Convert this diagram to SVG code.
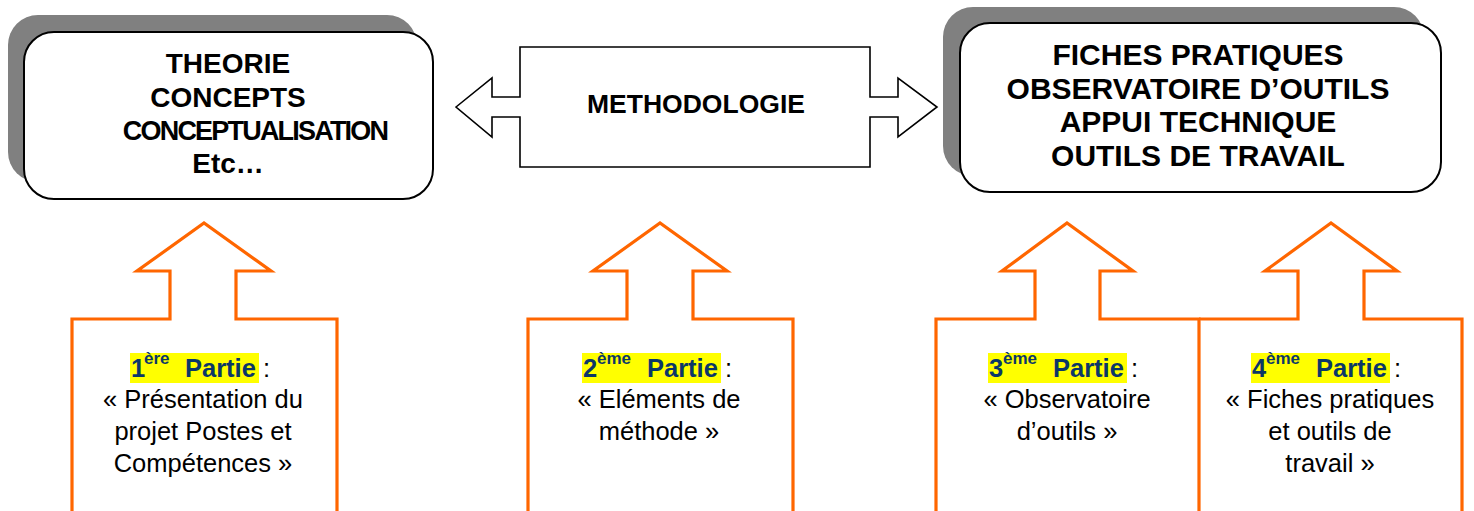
<svg xmlns="http://www.w3.org/2000/svg" width="1474" height="511" viewBox="0 0 1474 511">
<style>
.shadow{fill:#808080;stroke:none}
.card{fill:#fff;stroke:#000;stroke-width:2}
.callout{fill:#fff;stroke:#000;stroke-width:1.6;stroke-linejoin:miter}
.up{fill:#fff;stroke:#FF6600;stroke-width:3.2;stroke-linejoin:miter}
.big{font-family:"Liberation Sans",Arial,sans-serif;font-weight:bold;fill:#000;text-anchor:middle}
.body{font-family:"Liberation Sans",Arial,sans-serif;font-size:25.5px;fill:#000;text-anchor:middle}
.head{font-family:"Liberation Sans",Arial,sans-serif;font-size:25.5px;fill:#000}
.nb{font-weight:bold;fill:#0B3768}
.hl{fill:#FFFF00}
</style>
<rect width="1474" height="511" fill="#fff"/>
<g id="connectors"></g>

<g id="theorie">
<rect class="shadow" x="8" y="15" width="409" height="167" rx="30"/>
<rect class="card" x="24" y="32" width="409" height="167" rx="30"/>
<text class="big" font-size="28"><tspan x="228" y="73">THEORIE</tspan><tspan x="228" y="107">CONCEPTS</tspan></text>
<text class="big" font-size="27" x="255" y="140" letter-spacing="-1.8">CONCEPTUALISATION</text>
<text class="big" font-size="28" x="228" y="173">Etc…</text>
</g>

<g id="methodologie">
<path class="callout" d="M456,107 L492,78 L492,97 L520,97 L520,47 L870,47 L870,97 L898,97 L898,78 L937,107 L898,137 L898,117 L870,117 L870,167 L520,167 L520,117 L492,117 L492,137 Z"/>
<text class="big" font-size="26.5" x="696" y="113">METHODOLOGIE</text>
</g>

<g id="pratique">
<rect class="shadow" x="943" y="7" width="481" height="169" rx="30"/>
<rect class="card" x="960" y="23" width="481" height="169" rx="30"/>
<text class="big" font-size="30"><tspan x="1198" y="65">FICHES PRATIQUES</tspan><tspan x="1198" y="99">OBSERVATOIRE D’OUTILS</tspan><tspan x="1198" y="132">APPUI TECHNIQUE</tspan><tspan x="1198" y="166">OUTILS DE TRAVAIL</tspan></text>
</g>

<g id="partie1">
<path class="up" d="M72,515 L72,319 L170,319 L170,271 L137,271 L204,223 L271,271 L236,271 L236,319 L337,319 L337,515"/>
<rect class="hl" x="130" y="353" width="129" height="30"/>
<text class="head"><tspan class="nb" x="131" y="377">1</tspan><tspan class="nb" x="144" y="364" font-size="17">ère</tspan><tspan class="nb" x="185" y="377">Partie</tspan><tspan> :</tspan></text>
<text class="body"><tspan x="203" y="408">« Présentation du</tspan><tspan x="203" y="440">projet Postes et</tspan><tspan x="203" y="472">Compétences  »</tspan></text>
</g>

<g id="partie2">
<path class="up" d="M528,515 L528,319 L627,319 L627,271 L593,271 L660,223 L727,271 L693,271 L693,319 L793,319 L793,515"/>
<rect class="hl" x="582" y="353" width="139" height="30"/>
<text class="head"><tspan class="nb" x="583" y="377">2</tspan><tspan class="nb" x="597" y="364" font-size="17">ème</tspan><tspan class="nb" x="647" y="377">Partie</tspan><tspan> :</tspan></text>
<text class="body"><tspan x="659" y="408">« Eléments de</tspan><tspan x="659" y="440">méthode »</tspan></text>
</g>

<g id="partie3">
<path class="up" d="M936,515 L936,319 L1035,319 L1035,271 L1002,271 L1067,223 L1133,271 L1100,271 L1100,319 L1199,319 L1199,515"/>
<rect class="hl" x="988" y="353" width="139" height="30"/>
<text class="head"><tspan class="nb" x="989" y="377">3</tspan><tspan class="nb" x="1003" y="364" font-size="17">ème</tspan><tspan class="nb" x="1053" y="377">Partie</tspan><tspan> :</tspan></text>
<text class="body"><tspan x="1067" y="408">« Observatoire</tspan><tspan x="1067" y="440">d’outils  »</tspan></text>
</g>

<g id="partie4">
<path class="up" d="M1199,319 L1298,319 L1298,271 L1265,271 L1331,223 L1397,271 L1364,271 L1364,319 L1462,319 L1462,515"/>
<rect class="hl" x="1251" y="353" width="139" height="30"/>
<text class="head"><tspan class="nb" x="1252" y="377">4</tspan><tspan class="nb" x="1266" y="364" font-size="17">ème</tspan><tspan class="nb" x="1316" y="377">Partie</tspan><tspan> :</tspan></text>
<text class="body"><tspan x="1330" y="408">« Fiches pratiques</tspan><tspan x="1330" y="440">et outils de</tspan><tspan x="1330" y="472">travail  »</tspan></text>
</g>
</svg>
